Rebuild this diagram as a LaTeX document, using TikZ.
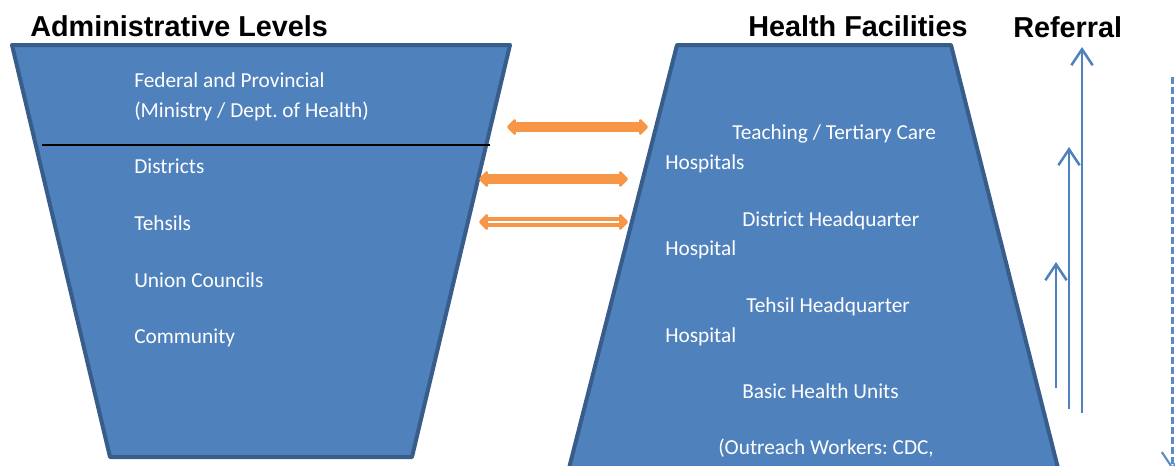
\documentclass[tikz,border=0pt]{standalone}
\usepackage{fontspec}
\setmainfont{Carlito}
\newfontfamily\headfont{Liberation Sans}
\frenchspacing
\usetikzlibrary{arrows.meta}
\definecolor{levelFill}{HTML}{4F81BD}
\definecolor{levelDraw}{HTML}{385D8A}
\definecolor{linkOrange}{HTML}{F79646}
\definecolor{referBlue}{HTML}{4F81BD}
\definecolor{referDash}{HTML}{5B8AC6}
\tikzset{
  x=0.75pt, y=-0.75pt,
  funnel/.style ={fill=levelFill, draw=levelDraw, line width=3pt, line join=round},
  head/.style   ={anchor=base west, inner sep=0pt, font=\headfont\bfseries\fontsize{21.6}{25}\selectfont},
  item/.style   ={anchor=base west, inner sep=0pt, text=white, font=\fontsize{16}{19}\selectfont},
  link/.style   ={draw=linkOrange, line width=7pt,
                  {Triangle[round, length=7pt, width=14pt]}-{Triangle[round, length=7pt, width=14pt]}},
  dlink/.style  ={draw=linkOrange, double=white, double distance=1.7pt, line width=2.6pt,
                  {Triangle[round, length=7pt, width=14pt]}-{Triangle[round, length=7pt, width=14pt]}},
  refer/.style  ={draw=referBlue, line width=1.9pt, -{Straight Barb[length=12pt, width=16pt]}},
  dreferal/.style={draw=referDash, line width=1.6pt, dash pattern=on 5pt off 2.5pt,
                  -{Straight Barb[length=12pt, width=16pt]}},
}
\begin{document}
\begin{tikzpicture}
  \useasboundingbox (0,0) rectangle (1175,465);
  \clip (0,0) rectangle (1175,465);

  % the two funnels
  \draw[funnel] (12,45) -- (510,45) -- (412,457) -- (110,457) -- cycle;
  \draw[funnel] (677,45) -- (951,45) -- (1061,480) -- (566,480) -- cycle;
  \coordinate (sepL) at (42,145);
  \coordinate (sepR) at (490,145);
  \draw[black, line width=1.1pt] (sepL) -- (sepR);

  % headings
  \node[head] (admin)    at (30,36)   {Administrative Levels};
  \node[head] (facility) at (748,36)  {Health Facilities};
  \node[head] (referral) at (1013,37) {Referral};

  % administrative levels
  \node[item] (fed)   at (134,87)  {Federal and Provincial};
  \node[item] (min)   at (134,117) {(Ministry / Dept. of Health)};
  \node[item] (dist)  at (134,173) {Districts};
  \node[item] (teh)   at (134,230) {Tehsils};
  \node[item] (uc)    at (134,287) {Union Councils};
  \node[item] (comm)  at (134,343) {Community};

  % health facilities
  \node[item] (teach)  at (732,139) {Teaching / Tertiary Care};
  \node[item] (teachH) at (665,169) {Hospitals};
  \node[item] (dhq)    at (742,226) {District Headquarter};
  \node[item] (dhqH)   at (665,255) {Hospital};
  \node[item] (thq)    at (746,312) {Tehsil Headquarter};
  \node[item] (thqH)   at (665,342) {Hospital};
  \node[item] (bhu)    at (742,398) {Basic Health Units};
  \node[item] (outr)   at (718,454) {(Outreach Workers: CDC,};

  % links between the two sides
  \coordinate (l1a) at (507,127); \coordinate (l1b) at (648,127);
  \coordinate (l2a) at (479,179); \coordinate (l2b) at (628,179);
  \coordinate (l3a) at (479,222); \coordinate (l3b) at (628,222);
  \draw[link]  (l1a) -- (l1b);
  \draw[link]  (l2a) -- (l2b);
  \draw[dlink] (l3a) -- (l3b);

  % referral arrows
  \coordinate (r1a) at (1082,413); \coordinate (r1b) at (1082,47);
  \coordinate (r2a) at (1069,409); \coordinate (r2b) at (1069,147);
  \coordinate (r3a) at (1056,388); \coordinate (r3b) at (1056,262);
  \coordinate (dwa) at (1172.5,77);  \coordinate (dwb) at (1172.5,470);
  \draw[refer] (r1a) -- (r1b);
  \draw[refer] (r2a) -- (r2b);
  \draw[refer] (r3a) -- (r3b);
  \draw[dreferal] (dwa) -- (dwb);
\end{tikzpicture}
\end{document}
